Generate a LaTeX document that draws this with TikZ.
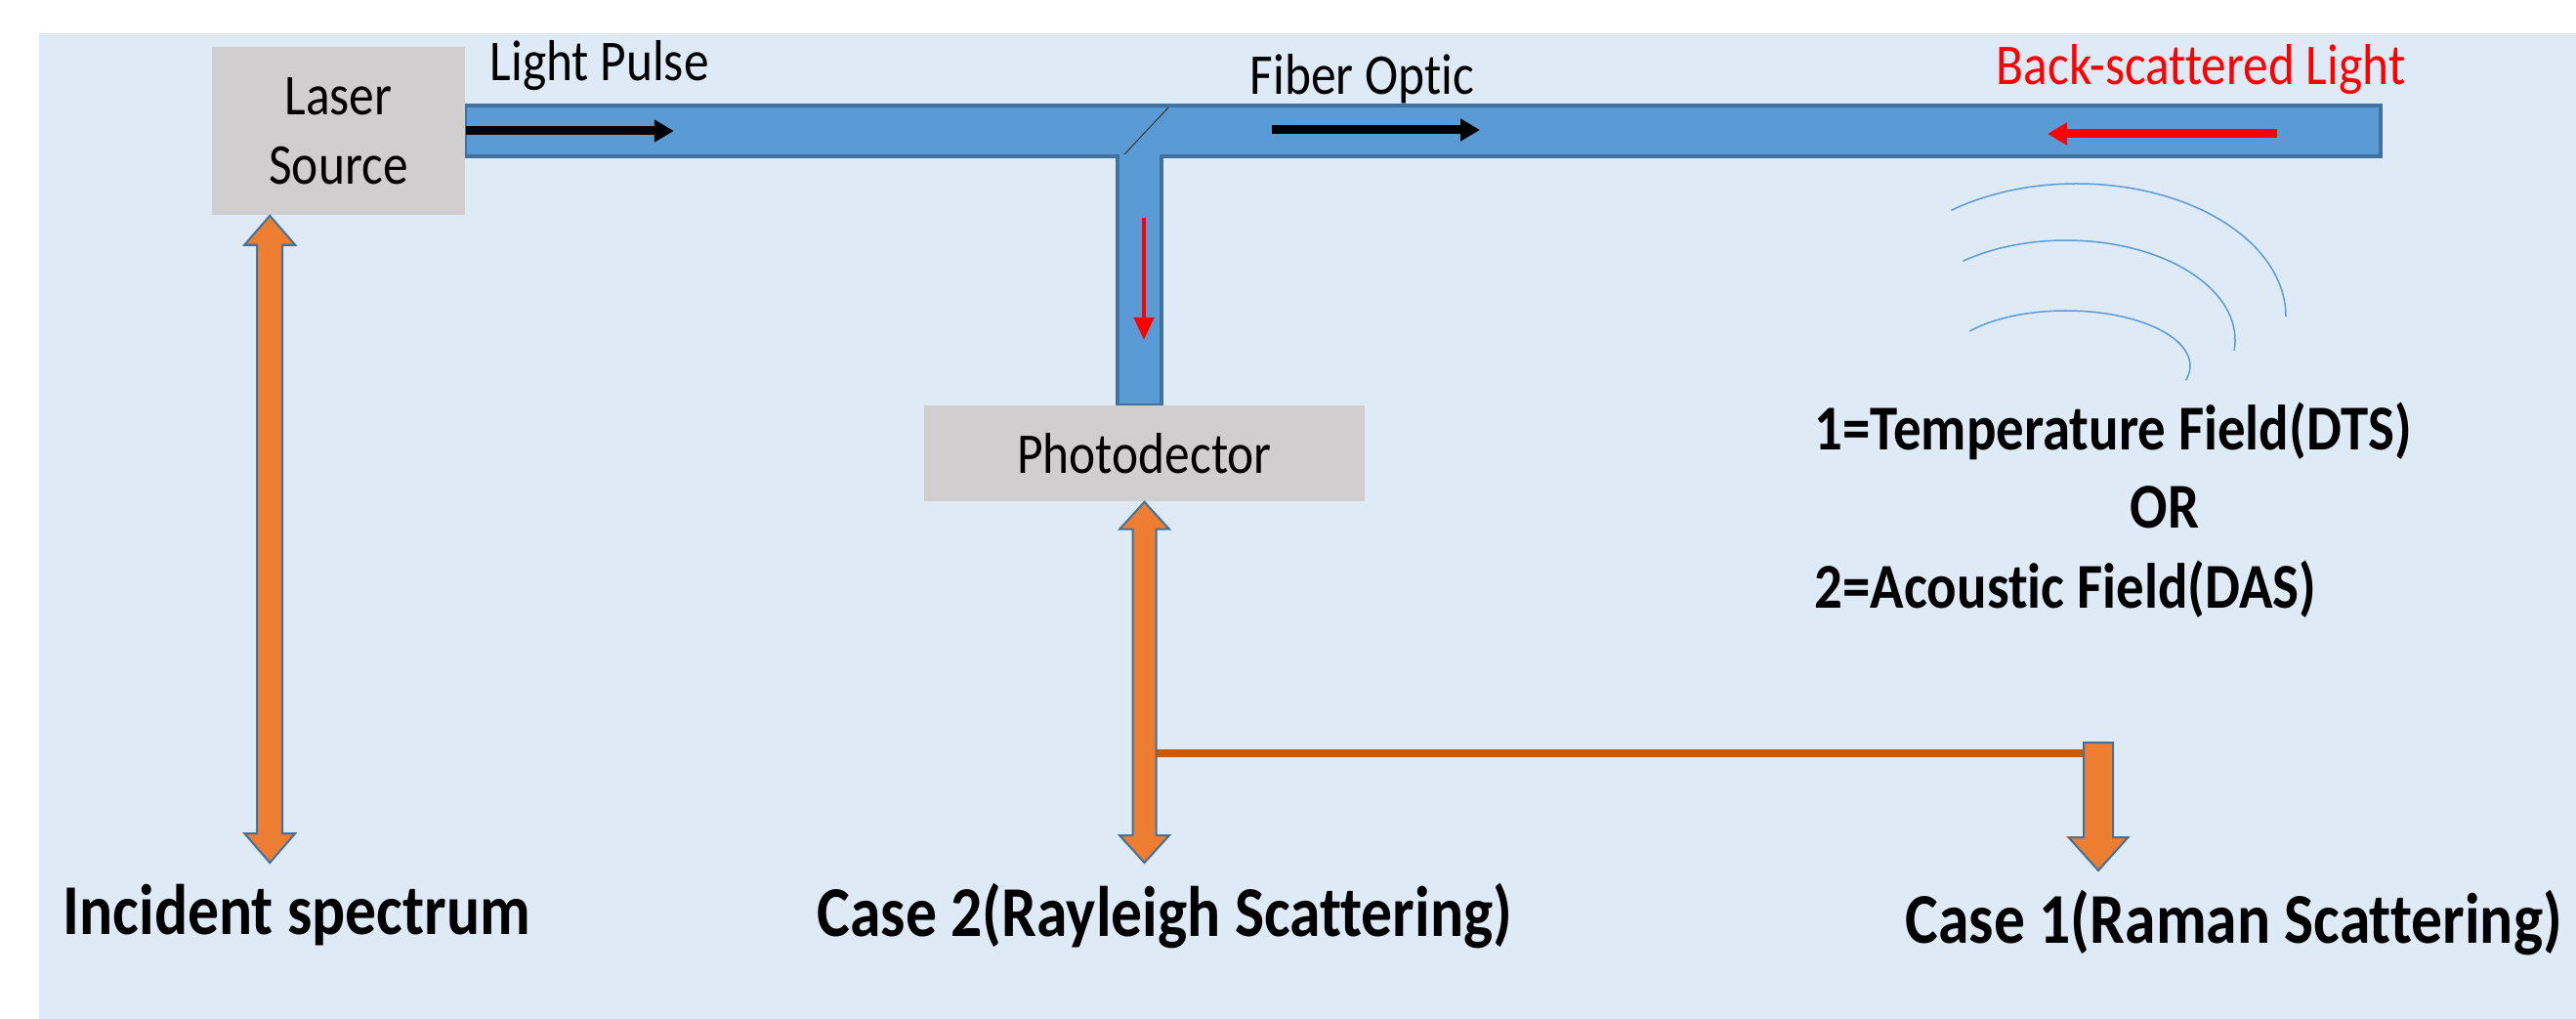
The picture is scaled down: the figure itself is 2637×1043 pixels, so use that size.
\documentclass[tikz,border=0pt]{standalone}
\usepackage{fontspec}
\setmainfont{Carlito}[FakeStretch=0.87, Ligatures=NoCommon]
\usetikzlibrary{arrows.meta,positioning,calc}
\definecolor{bgblue}{HTML}{DEEBF7}
\definecolor{boxgray}{HTML}{D0CECE}
\definecolor{fiberblue}{HTML}{5B9BD5}
\definecolor{fiberedge}{HTML}{41719C}
\definecolor{blkorange}{HTML}{ED7D31}
\definecolor{barorange}{HTML}{C55A11}

\begin{document}
\begin{tikzpicture}[x=0.01cm, y=-0.01cm,
  box/.style={fill=boxgray, align=center, inner sep=0pt,
              font=\fontsize{16.8}{20.2}\selectfont},
  lbl/.style={anchor=base west, inner sep=0pt, font=\fontsize{16.8}{20}\selectfont},
  big/.style={anchor=base west, inner sep=0pt, font=\fontsize{18.6}{23}\selectfont\bfseries},
  case/.style={anchor=base west, inner sep=0pt, font=\fontsize{20.8}{25}\selectfont\bfseries},
  fiber/.style={fill=fiberblue, draw=fiberedge, line width=0.04cm},
  pulse/.style={-{Triangle[width=0.22cm,length=0.2cm]}, line width=0.09cm},
  block/.style={fill=blkorange, draw=fiberedge, line width=0.02cm},
  link/.style={draw=barorange, line width=0.08cm},
  wave/.style={draw=fiberblue, line width=0.015cm}]
\useasboundingbox (0,0) rectangle (2637,1043);
\fill[bgblue] (40,34) rectangle (2637,1043);
% fiber with the branch down to the detector
\draw[fiber] (476,108) -- (2437,108) -- (2437,160) -- (1189,160) -- (1189,415)
  -- (1144,415) -- (1144,160) -- (476,160) -- cycle;
\draw[line width=0.01cm, black!80] (1196,110) -- (1151,158);
\node[box, minimum width=2.59cm, minimum height=1.72cm] (laser) at (346.5,134) {Laser\\Source};
\node[box, minimum width=4.51cm, minimum height=0.98cm] (photo) at (1171.5,464) {Photodector};
% light in the fiber
\draw[pulse] (laser.east) -- ++(213,0);
\draw[pulse] (1302,133) -- (1515,133);
\draw[pulse, red] (2331,137) -- (2096,137);
\draw[red, line width=0.04cm, -{Triangle[width=0.2cm,length=0.23cm]}] (1171,223) -- (1171,348);
\node[lbl] (pulselbl) at (501,83) {Light Pulse};
\node[lbl] (fiberlbl) at (1279,97) {Fiber Optic};
\node[lbl, text=red] (backlbl) at (2043,87) {Back-scattered Light};
% field waves
\draw[wave] (2126,324) ++(-127:214 and 136) arc[start angle=-127, end angle=0, x radius=214, y radius=136];
\draw[wave] (2115,348) ++(-127.6:173 and 102) arc[start angle=-127.6, end angle=6, x radius=173, y radius=102];
\draw[wave] (2115,374.5) ++(-141:127 and 56.5) arc[start angle=-141, end angle=15, x radius=127, y radius=56.5];
\node[big] (temp) at (1857,460) {1=Temperature Field(DTS)};
\node[big, anchor=base] (or) at (2216,540) {OR};
\node[big] (acou) at (1857,622) {2=Acoustic Field(DAS)};
% outputs
\node[case] (inc) at (64,956) {Incident spectrum};
\node[case] (ray) at (836,958) {Case 2(Rayleigh Scattering)};
\node[case] (ram) at (1950,965) {Case 1(Raman Scattering)};
\coordinate (incA) at ($(laser.south west)+(60,0)$);
\coordinate (incB) at (incA |- 0,883);
\coordinate (cs2A) at (photo.south);
\coordinate (cs2B) at (cs2A |- 0,883);
\coordinate (cs1A) at (2148,760);
\coordinate (cs1B) at (2148,891);
\draw[link] ($(cs2A |- 0,770.5)+(12,0)$) -- ($(cs1A)+(-15,10.5)$);
\draw[block] (incA) -- ($(incA)+(26,30)$) -- ($(incA)+(13,30)$) -- ($(incB)+(13,-30)$)
  -- ($(incB)+(26,-30)$) -- (incB) -- ($(incB)+(-26,-30)$) -- ($(incB)+(-13,-30)$)
  -- ($(incA)+(-13,30)$) -- ($(incA)+(-26,30)$) -- cycle;
\draw[block] (cs2A) -- ($(cs2A)+(25.5,28)$) -- ($(cs2A)+(12,28)$) -- ($(cs2B)+(12,-28)$)
  -- ($(cs2B)+(25.5,-28)$) -- (cs2B) -- ($(cs2B)+(-25.5,-28)$) -- ($(cs2B)+(-12,-28)$)
  -- ($(cs2A)+(-12,28)$) -- ($(cs2A)+(-25.5,28)$) -- cycle;
\draw[block] ($(cs1A)+(-15,0)$) -- ($(cs1A)+(15,0)$) -- ($(cs1B)+(15,-34)$)
  -- ($(cs1B)+(30.5,-34)$) -- (cs1B) -- ($(cs1B)+(-30.5,-34)$) -- ($(cs1B)+(-15,-34)$) -- cycle;
\end{tikzpicture}
\end{document}
